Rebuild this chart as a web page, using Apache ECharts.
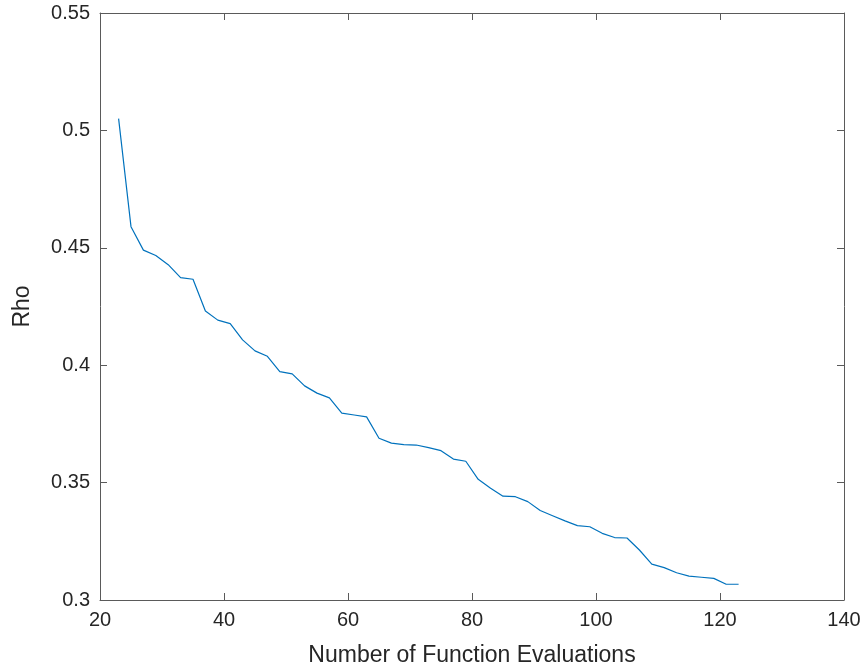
<!DOCTYPE html>
<html>
<head>
<meta charset="utf-8">
<script src="https://cdn.jsdelivr.net/npm/echarts@6/dist/echarts.min.js"></script>
<style>
  html, body { margin: 0; padding: 0; background: #fff; }
  #chart { width: 867px; height: 672px; }
</style>
</head>
<body>
<div id="chart"></div>
<script>
// function evaluations (every 2nd one)
const evaluations = [
  23, 25, 27, 29, 31, 33, 35, 37, 39, 41,
  43, 45, 47, 49, 51, 53, 55, 57, 59, 61,
  63, 65, 67, 69, 71, 73, 75, 77, 79, 81,
  83, 85, 87, 89, 91, 93, 95, 97, 99, 101,
  103, 105, 107, 109, 111, 113, 115, 117, 119, 121,
  123
];
const rho = [
  0.505, 0.459, 0.449, 0.4467, 0.4428, 0.4373, 0.4366, 0.4231, 0.4192, 0.4177,
  0.4108, 0.4061, 0.4038, 0.3973, 0.3963, 0.3912, 0.3881, 0.3861, 0.3796, 0.3788,
  0.3780, 0.3689, 0.3668, 0.3662, 0.3660, 0.3649, 0.3636, 0.3600, 0.3591, 0.3514,
  0.3476, 0.3442, 0.3440, 0.3419, 0.3381, 0.3359, 0.3337, 0.3317, 0.3312, 0.3284,
  0.3266, 0.3264, 0.3213, 0.3153, 0.3138, 0.3116, 0.3102, 0.3097, 0.3092, 0.3067,
  0.3067
];
const xTicks = { min: 20, max: 140, interval: 20 };
const yTicks = { min: 0.3, max: 0.55, interval: 0.05 };

const axisColor = '#5a5a5a';
const textColor = '#262626';
const font = '"Liberation Sans", Arial, sans-serif';

const myChart = echarts.init(document.getElementById('chart'), null, { renderer: 'canvas' });

const baseAxis = {
  type: 'value',
  axisLine: { show: true, onZero: false, lineStyle: { color: axisColor, width: 1 } },
  axisTick: { show: true, inside: true, length: 7, lineStyle: { color: axisColor } },
  splitLine: { show: false },
};

const option = {
  animation: false,
  backgroundColor: '#fff',
  grid: { left: 100, right: 23, top: 13, bottom: 72, containLabel: false },
  xAxis: [
    Object.assign({}, baseAxis, {
      position: 'bottom',
      min: xTicks.min, max: xTicks.max, interval: xTicks.interval,
      name: 'Number of Function Evaluations',
      nameLocation: 'middle',
      nameGap: 44,
      nameTextStyle: { color: textColor, fontSize: 23, fontFamily: font },
      axisLabel: { color: textColor, fontSize: 20, fontFamily: font, margin: 10 },
    }),
    Object.assign({}, baseAxis, {
      position: 'top',
      min: xTicks.min, max: xTicks.max, interval: xTicks.interval,
      axisLabel: { show: false },
    }),
  ],
  yAxis: [
    Object.assign({}, baseAxis, {
      position: 'left',
      min: yTicks.min, max: yTicks.max, interval: yTicks.interval,
      name: 'Rho',
      nameLocation: 'middle',
      nameGap: 66,
      nameRotate: 90,
      nameTextStyle: { color: textColor, fontSize: 23, fontFamily: font },
      axisLabel: {
        color: textColor, fontSize: 20, fontFamily: font, margin: 10,
        formatter: v => String(parseFloat(v.toFixed(2))),
      },
    }),
    Object.assign({}, baseAxis, {
      position: 'right',
      min: yTicks.min, max: yTicks.max, interval: yTicks.interval,
      axisLabel: { show: false },
    }),
  ],
  series: [{
    type: 'line',
    xAxisIndex: 0,
    yAxisIndex: 0,
    data: evaluations.map((x, i) => [x, rho[i]]),
    showSymbol: false,
    symbol: 'none',
    lineStyle: { color: '#0072BD', width: 1.2 },
  }],
};

myChart.setOption(option);
</script>
</body>
</html>
